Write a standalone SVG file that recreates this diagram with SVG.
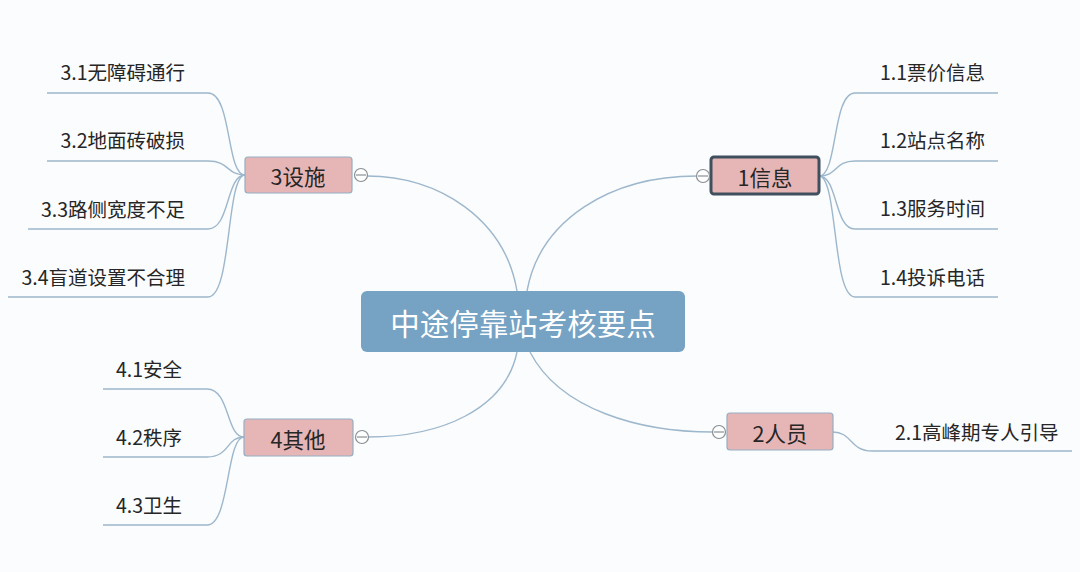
<svg xmlns="http://www.w3.org/2000/svg" width="1080" height="572" viewBox="0 0 1080 572">
<style>
.t{font-family:"Noto Sans CJK SC","Liberation Sans",sans-serif;fill:#262626;font-size:19.5px}
.n{font-family:"Noto Sans CJK SC","Liberation Sans",sans-serif;fill:#262626;font-size:21.5px;text-anchor:middle;dominant-baseline:central}
.c{fill:none;stroke:#9db7cc;stroke-width:1.4}
.sub{fill:#e6b6b6;stroke:#94aec4;stroke-width:1.2}
.col circle{fill:#fff;stroke:#8a8f94;stroke-width:1.2}
.col line{stroke:#8a8f94;stroke-width:1.2}
</style>
<rect width="1080" height="572" fill="#fbfcfd"/>
<g id="connectors">
<path class="c" d="M527 291 C540 220 610 176 697 176"/>
<path class="c" d="M517 291 C505 220 440 176 367 176"/>
<path class="c" d="M517 352 C505 410 440 437 368 437"/>
<path class="c" d="M530 352 C560 410 640 432 713 432"/>
<path class="c" d="M819 176 C838 176 832 93 855 93 L998 93"/>
<path class="c" d="M819 176 C838 176 834 161 855 161 L998 161"/>
<path class="c" d="M819 176 C838 176 834 229 855 229 L998 229"/>
<path class="c" d="M819 176 C838 176 832 297 855 297 L998 297"/>
<path class="c" d="M245 175 C226 175 232 93 208 93 L47 93"/>
<path class="c" d="M245 175 C226 175 230 161 208 161 L47 161"/>
<path class="c" d="M245 175 C226 175 230 229 208 229 L28 229"/>
<path class="c" d="M245 175 C226 175 232 297 208 297 L8 297"/>
<path class="c" d="M244 437 C226 437 230 389 207 389 L103 389"/>
<path class="c" d="M244 437 C226 437 230 457 207 457 L103 457"/>
<path class="c" d="M244 437 C226 437 230 525 207 525 L103 525"/>
<path class="c" d="M833 432 C852 432 850 451 872 451 L1072 451"/>
</g>
<g id="center">
<rect x="361" y="291" width="324" height="61" rx="6" fill="#76a2c3"/>
<text x="523" y="322" font-family="Noto Sans CJK SC,Liberation Sans,sans-serif" font-size="29.5" fill="#fff" text-anchor="middle" dominant-baseline="central">中途停靠站考核要点</text>
</g>
<g id="n1">
<rect x="711" y="157" width="108" height="37" rx="3" fill="#e6b6b6" stroke="#3f4f5e" stroke-width="3"/>
<text class="n" x="765" y="176">1信息</text>
<g class="col"><circle cx="703" cy="176" r="6.5"/><line x1="698" y1="176" x2="708" y2="176"/></g>
</g>
<g id="n2">
<rect class="sub" x="727" y="413" width="106" height="37" rx="3"/>
<text class="n" x="780" y="432">2人员</text>
<g class="col"><circle cx="719" cy="432" r="6.5"/><line x1="714" y1="432" x2="724" y2="432"/></g>
</g>
<g id="n3">
<rect class="sub" x="245" y="157" width="107" height="36" rx="3"/>
<text class="n" x="298" y="175">3设施</text>
<g class="col"><circle cx="361" cy="175" r="6.5"/><line x1="356" y1="175" x2="366" y2="175"/></g>
</g>
<g id="n4">
<rect class="sub" x="244" y="419" width="109" height="37" rx="3"/>
<text class="n" x="298" y="438">4其他</text>
<g class="col"><circle cx="362" cy="437" r="6.5"/><line x1="357" y1="437" x2="367" y2="437"/></g>
</g>
<g id="n1-1"><text class="t" x="880" y="80">1.1票价信息</text></g>
<g id="n1-2"><text class="t" x="880" y="148">1.2站点名称</text></g>
<g id="n1-3"><text class="t" x="880" y="216">1.3服务时间</text></g>
<g id="n1-4"><text class="t" x="880" y="285">1.4投诉电话</text></g>
<g id="n2-1"><text class="t" x="895" y="440">2.1高峰期专人引导</text></g>
<g id="n3-1"><text class="t" x="185" y="80" text-anchor="end">3.1无障碍通行</text></g>
<g id="n3-2"><text class="t" x="185" y="148" text-anchor="end">3.2地面砖破损</text></g>
<g id="n3-3"><text class="t" x="185" y="217" text-anchor="end">3.3路侧宽度不足</text></g>
<g id="n3-4"><text class="t" x="185" y="285" text-anchor="end">3.4盲道设置不合理</text></g>
<g id="n4-1"><text class="t" x="116" y="377">4.1安全</text></g>
<g id="n4-2"><text class="t" x="116" y="445">4.2秩序</text></g>
<g id="n4-3"><text class="t" x="116" y="513">4.3卫生</text></g>
</svg>
